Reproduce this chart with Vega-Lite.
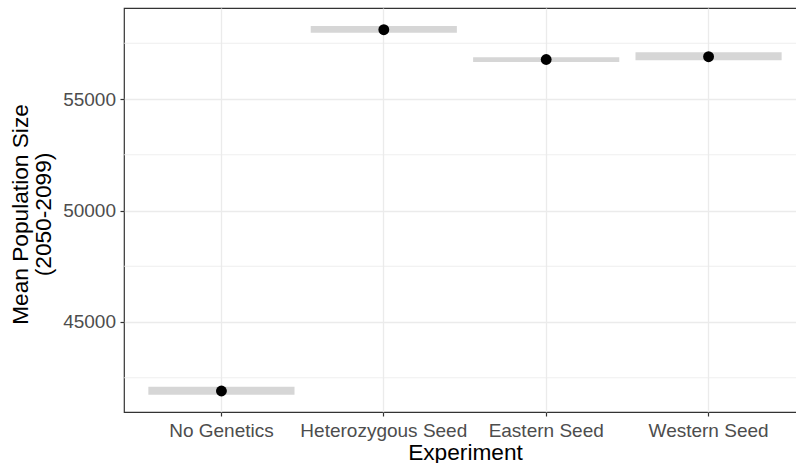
{
  "$schema": "https://vega.github.io/schema/vega-lite/v6.json",
  "autosize": "none",
  "padding": {"left": 124, "top": 8, "right": 0, "bottom": 51},
  "width": 682,
  "height": 404,
  "background": "white",
  "config": {
    "font": "Liberation Sans",
    "view": {"stroke": "#333333", "strokeWidth": 1.2},
    "axis": {
      "domain": false,
      "tickColor": "#333333",
      "tickSize": 4,
      "tickWidth": 1.2,
      "labelColor": "#4D4D4D",
      "labelFont": "Liberation Sans",
      "labelFontSize": 19,
      "titleFont": "Liberation Sans",
      "titleFontSize": 22.7,
      "titleFontWeight": "normal",
      "titleColor": "#000000",
      "gridColor": "#EBEBEB",
      "gridWidth": 1.3
    }
  },
  "datasets": {
    "main": [
      {"Experiment": "No Genetics", "mean": 41906, "lo": 41740, "hi": 42100},
      {"Experiment": "Heterozygous Seed", "mean": 58108, "lo": 57973, "hi": 58274},
      {"Experiment": "Eastern Seed", "mean": 56771, "lo": 56659, "hi": 56870},
      {"Experiment": "Western Seed", "mean": 56897, "lo": 56735, "hi": 57094}
    ],
    "minor": [
      {"lo": 42500}, {"lo": 47500}, {"lo": 52500}, {"lo": 57500}
    ]
  },
  "layer": [
    {
      "data": {"name": "minor"},
      "mark": {"type": "rule", "color": "#EBEBEB", "strokeWidth": 0.8},
      "encoding": {
        "y": {"field": "lo", "type": "quantitative"}
      }
    },
    {
      "data": {"name": "main"},
      "mark": {"type": "bar", "color": "#D6D6D6"},
      "encoding": {
        "x": {
          "field": "Experiment", "type": "nominal",
          "sort": ["No Genetics", "Heterozygous Seed", "Eastern Seed", "Western Seed"],
          "scale": {"paddingInner": 0.1, "paddingOuter": 0.15},
          "axis": {"title": "Experiment", "labelAngle": 0, "labelPadding": 5, "grid": true, "titleY": 47.5, "titleBaseline": "alphabetic", "titleX": 341}
        },
        "y": {
          "field": "lo", "type": "quantitative",
          "scale": {"domain": [40964, 59081], "nice": false, "zero": false},
          "axis": {
            "title": ["Mean Population Size", "(2050-2099)"],
            "values": [45000, 50000, 55000],
            "format": "d",
            "labelPadding": 4.5,
            "titleX": -104, "titleY": 206, "titleAngle": -90,
            "titleBaseline": "middle", "titleAlign": "center", "titleLineHeight": 23
          }
        },
        "y2": {"field": "hi"}
      }
    },
    {
      "data": {"name": "main"},
      "mark": {"type": "point", "shape": "circle", "filled": true, "color": "#000000", "opacity": 1, "size": 118},
      "encoding": {
        "x": {"field": "Experiment", "type": "nominal", "sort": ["No Genetics", "Heterozygous Seed", "Eastern Seed", "Western Seed"]},
        "y": {"field": "mean", "type": "quantitative"}
      }
    }
  ]
}
